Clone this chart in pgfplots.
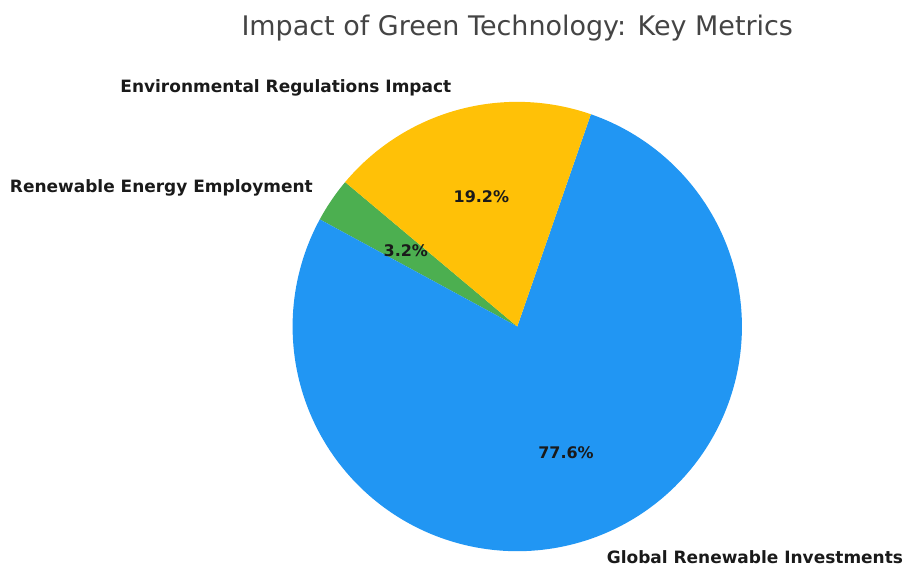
\documentclass[border=0pt]{standalone}
\usepackage{pgfplots}
\usepackage{pgfplotstable}
\pgfplotsset{compat=1.18}
\usepackage{fontspec}
\setmainfont{DejaVu Sans}
\definecolor{cblue}{HTML}{2196F3}
\definecolor{cyellow}{HTML}{FFC107}
\definecolor{cgreen}{HTML}{4CAF50}
\definecolor{ctitle}{HTML}{444444}
\definecolor{clabel}{HTML}{1A1A1A}
\pgfplotstableread{
value
3.2
77.6
19.2
}\piedata
\begin{document}%
\begin{tikzpicture}
\pgfplotstablegetelem{0}{value}\of\piedata \let\va\pgfplotsretval
\pgfplotstablegetelem{1}{value}\of\piedata \let\vb\pgfplotsretval
\pgfplotstablegetelem{2}{value}\of\piedata \let\vc\pgfplotsretval
\pgfmathsetmacro\aA{140}
\pgfmathsetmacro\aB{\aA+3.6*\va}
\pgfmathsetmacro\aC{\aB+3.6*\vb}
\pgfmathsetmacro\aD{\aC+3.6*\vc}
\pgfmathsetmacro\mA{(\aA+\aB)/2}
\pgfmathsetmacro\mB{(\aB+\aC)/2}
\pgfmathsetmacro\mC{(\aC+\aD)/2}
\begin{axis}[x=225pt, y=225pt, scale only axis, hide axis,
  xmin=-2.3022, xmax=1.7111, ymin=-1.0711, ymax=1.4533, clip=false]
\path (rel axis cs:0,0) rectangle (rel axis cs:1,1);
\addplot[draw=none, fill=cgreen, domain=\aA:\aB, samples=20] ({cos(x)},{sin(x)}) -- (axis cs:0,0) -- cycle;
\addplot[draw=none, fill=cblue, domain=\aB:\aC, samples=200] ({cos(x)},{sin(x)}) -- (axis cs:0,0) -- cycle;
\addplot[draw=none, fill=cyellow, domain=\aC:\aD, samples=60] ({cos(x)},{sin(x)}) -- (axis cs:0,0) -- cycle;
\node[anchor=east, inner sep=0pt, text=clabel, font=\fontsize{17}{20}\selectfont\bfseries] at (axis cs:{1.1*cos(\mA)},{1.1*sin(\mA)}) {Renewable Energy Employment};
\node[anchor=west, inner sep=0pt, text=clabel, font=\fontsize{17}{20}\selectfont\bfseries] at (axis cs:{1.1*cos(\mB)},{1.1*sin(\mB)}) {Global Renewable Investments};
\node[anchor=east, inner sep=0pt, text=clabel, font=\fontsize{17}{20}\selectfont\bfseries] at (axis cs:{1.1*cos(\mC)},{1.1*sin(\mC)}) {Environmental Regulations Impact};
\node[text=clabel, font=\fontsize{16}{19}\selectfont\bfseries] at (axis cs:{0.6*cos(\mA)},{0.6*sin(\mA)}) {3.2\%};
\node[text=clabel, font=\fontsize{16}{19}\selectfont\bfseries] at (axis cs:{0.6*cos(\mB)},{0.6*sin(\mB)}) {77.6\%};
\node[text=clabel, font=\fontsize{16}{19}\selectfont\bfseries] at (axis cs:{0.6*cos(\mC)},{0.6*sin(\mC)}) {19.2\%};
\node[text=ctitle, font=\fontsize{27}{31}\selectfont] at (axis cs:0,1.329) {Impact of Green Technology: Key Metrics};
\end{axis}
\end{tikzpicture}%
\end{document}
